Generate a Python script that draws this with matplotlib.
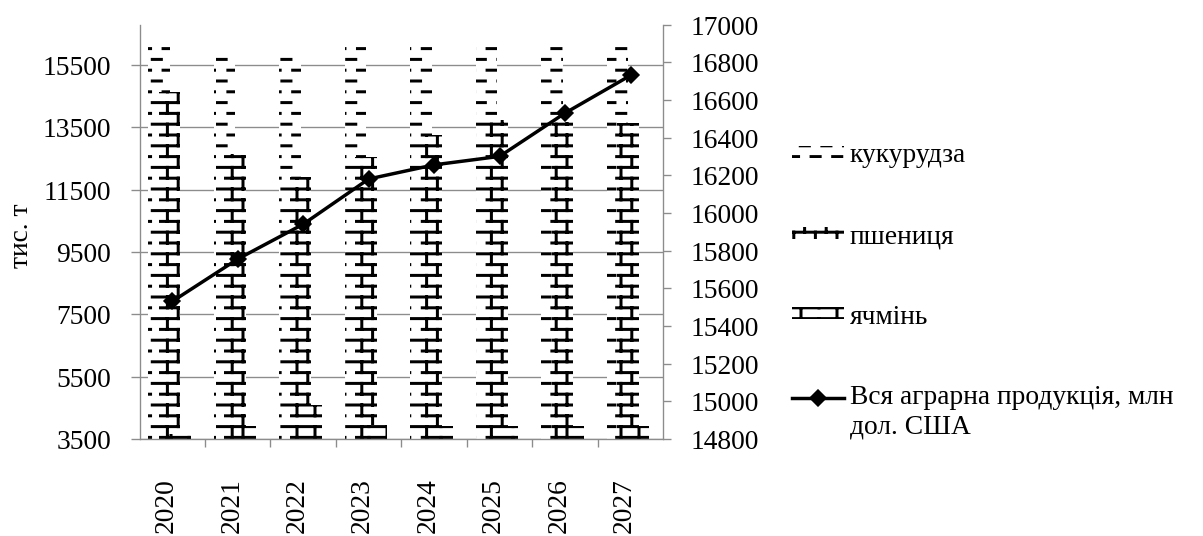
import numpy as np
import matplotlib
matplotlib.use('Agg')
import matplotlib.pyplot as plt
import matplotlib.hatch as mhatch
from matplotlib.path import Path
from matplotlib.transforms import ScaledTranslation
from matplotlib.legend_handler import HandlerLine2D

# data
years = ['2020', '2021', '2022', '2023', '2024', '2025', '2026', '2027']
corn = [16250, 15900, 15950, 16300, 16250, 16250, 16300, 16250]      # кукурудза, тис. т
wheat = [14650, 12630, 11920, 12560, 13270, 13750, 13660, 13630]     # пшениця, тис. т
barley = [3650, 3900, 4590, 3950, 3900, 3900, 3900, 3900]            # ячмінь, тис. т
agro_total = [15530, 15755, 15940, 16180, 16255, 16300, 16530, 16730]  # млн дол. США

left_ticks = [3500, 5500, 7500, 9500, 11500, 13500, 15500]
right_ticks = [14800, 15000, 15200, 15400, 15600, 15800, 16000, 16200,
               16400, 16600, 16800, 17000]

DPI = 108
FS = 18.3
GRAY = '#8c8c8c'


# --- Excel-like pattern fills (dashed horizontal, horizontal brick) ---
def dash_segments(rows, cols, frac):
    segs = []
    for i in range(rows):
        y = (i + 0.5) / rows
        for k in range(cols):
            x0 = (k + 0.05 + 0.5 * (i % 2)) / cols
            segs.append([(x0, y), (x0 + frac / cols, y)])
    return segs


def brick_segments(rows, cols):
    segs = []
    for i in range(rows):
        y0 = (i + 0.5) / rows
        y1 = y0 + 1.0 / rows
        segs.append([(0, y0), (1, y0)])
        for k in range(cols):
            x = (k + 0.25 + 0.5 * (i % 2)) / cols
            if y1 <= 1:
                segs.append([(x, y0), (x, y1)])
            else:
                segs.append([(x, y0), (x, 1.0)])
                segs.append([(x, 0.0), (x, y1 - 1)])
    return segs


class PatternHatch(mhatch.HatchPatternBase):
    patterns = {}

    def __init__(self, hatch, density):
        segs = []
        for ch, s in self.patterns.items():
            if ch in hatch:
                segs.extend(s)
        self.segs = np.asarray(segs, float).reshape(-1, 2)
        self.num_vertices = len(self.segs)

    def set_vertices_and_codes(self, vertices, codes):
        vertices[:] = self.segs
        codes[0::2] = Path.MOVETO
        codes[1::2] = Path.LINETO


PatternHatch.patterns = {'-': dash_segments(10, 5, 0.42),
                         '+': brick_segments(10, 5),
                         'x': brick_segments(10, 3)}
mhatch._hatch_types[:] = [PatternHatch]


class RaisedLine(HandlerLine2D):
    # put the line marker next to the first line of a two-line label
    def create_artists(self, legend, orig_handle, xdescent, ydescent,
                       width, height, fontsize, trans):
        return super().create_artists(legend, orig_handle, xdescent,
                                      ydescent - 1.13 * fontsize, width, height,
                                      fontsize, trans)


plt.rcParams['font.family'] = ['Liberation Serif', 'DejaVu Serif']
plt.rcParams['font.size'] = FS
plt.rcParams['hatch.linewidth'] = 2.0

fig = plt.figure(figsize=(1203.5 / DPI, 536.5 / DPI), dpi=DPI)
ax = fig.add_axes([139.5 / 1203, 97 / 536, (663 - 139.5) / 1203, (439 - 25) / 536])
ax2 = ax.twinx()

x = np.arange(len(years))
w = 0.33
ax.bar(x - 0.2, corn, w, color='white', edgecolor='black', linewidth=0,
       hatch='-', label='кукурудза')
ax.bar(x - 0.04, wheat, w, color='white', edgecolor='black', linewidth=0,
       hatch='+', label='пшениця')
ax.bar(x + 0.12, barley, w, color='white', edgecolor='black', linewidth=0,
       hatch='x', label='ячмінь')
line, = ax2.plot(x, agro_total, color='black', lw=2.3, marker='D', ms=8,
                 label='Вся аграрна продукція, млн\nдол. США')

ax.set_xlim(-0.5, len(years) - 0.5)
ax.set_ylim(3500, 16800)
ax.set_yticks(left_ticks)
ax.yaxis.grid(True, color=GRAY, lw=0.9)
ax.set_axisbelow(True)
ax2.set_ylim(14800, 17000)
ax2.set_yticks(right_ticks)

ax.set_xticks(x)
ax.set_xticklabels(years, rotation=90, ha='center', va='top')
ax.set_xticks(np.arange(0.5, len(years) - 0.5), minor=True)
ax.tick_params(axis='x', which='major', length=0, pad=26)
ax.tick_params(axis='x', which='minor', length=5, color=GRAY, width=0.9)
ax.tick_params(axis='y', length=6, color=GRAY, width=0.9, pad=13)
ax2.tick_params(axis='y', length=5, color=GRAY, width=0.9, pad=13)
for lab in ax.get_xticklabels():
    lab.set_transform(lab.get_transform() + ScaledTranslation(-6 / DPI, 0, fig.dpi_scale_trans))

for a in (ax, ax2):
    a.spines['top'].set_visible(False)
    for s in a.spines.values():
        s.set_color(GRAY)
        s.set_linewidth(0.9)
ax.spines['right'].set_visible(False)
ax2.spines['left'].set_visible(False)
ax2.spines['bottom'].set_visible(False)

fig.text(21 / 1203, 1 - 236 / 536, 'тис. т', rotation=90, ha='center', va='center')

h1, l1 = ax.get_legend_handles_labels()
h2, l2 = ax2.get_legend_handles_labels()
fig.legend(h1 + h2, l1 + l2, loc='center left', bbox_to_anchor=(792 / 1203, 1 - 291 / 536),
           frameon=False, handlelength=1.9, handleheight=0.3, handletextpad=0.2,
           labelspacing=2.03, borderpad=0, borderaxespad=0,
           handler_map={line: RaisedLine()})

fig.savefig('out.png', dpi=DPI)
